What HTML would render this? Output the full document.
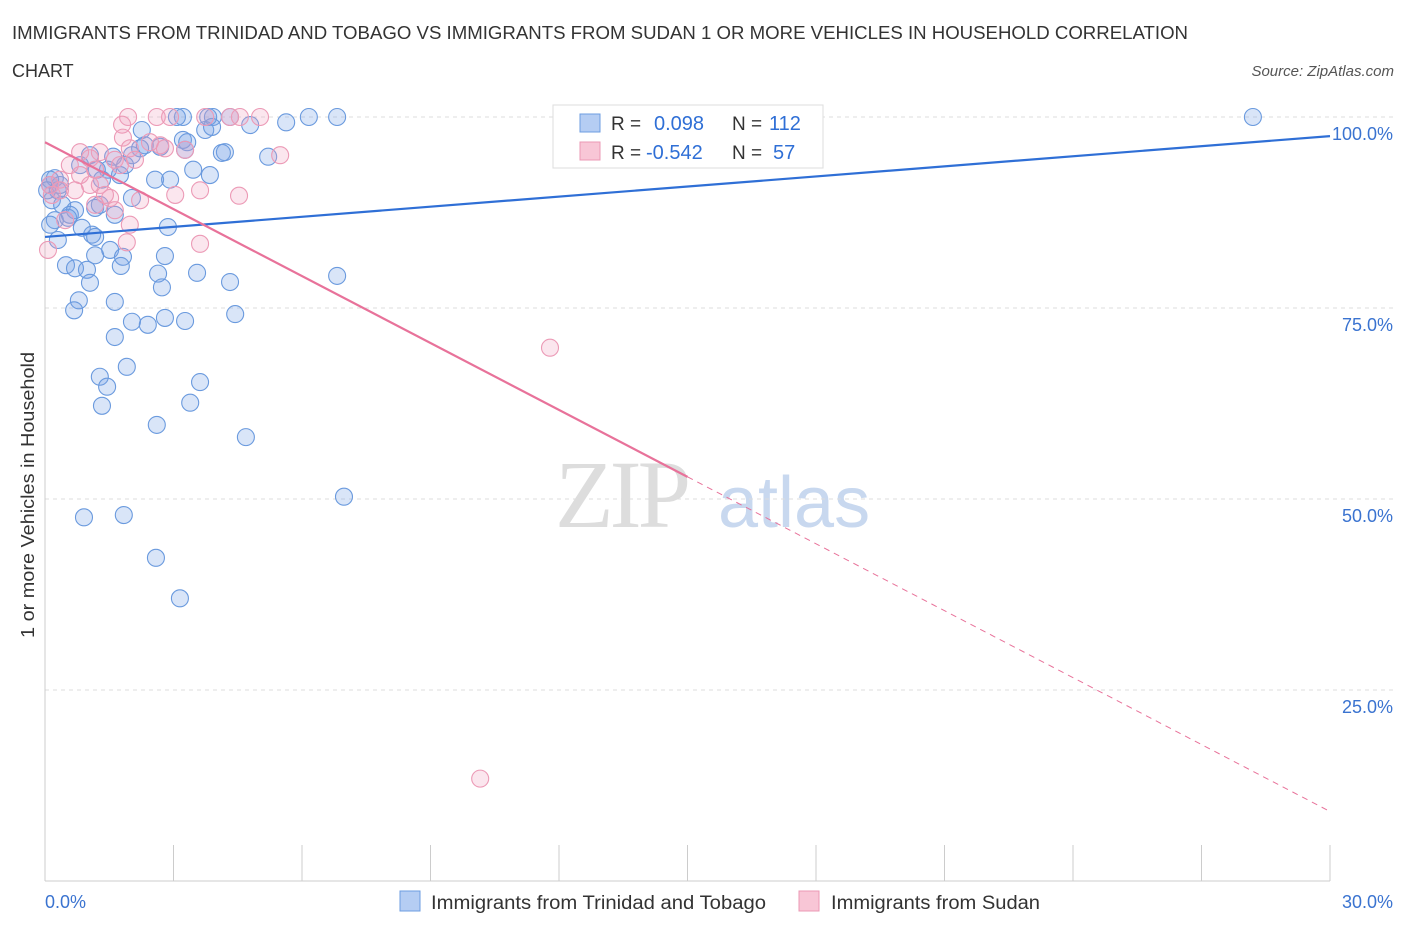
<!DOCTYPE html>
<html><head><meta charset="utf-8">
<style>
body{margin:0;background:#fff;font-family:"Liberation Sans",sans-serif;}
svg text{font-family:"Liberation Sans",sans-serif;}
</style></head>
<body>
<svg id="chart" width="1406" height="930" viewBox="0 0 1406 930">
<text x="12" y="39" font-size="18" fill="#333" textLength="1176" lengthAdjust="spacingAndGlyphs">IMMIGRANTS FROM TRINIDAD AND TOBAGO VS IMMIGRANTS FROM SUDAN 1 OR MORE VEHICLES IN HOUSEHOLD CORRELATION</text>
<text x="12" y="77" font-size="18" fill="#333">CHART</text>
<text x="1394" y="76" font-size="15" fill="#555" font-style="italic" text-anchor="end">Source: ZipAtlas.com</text>
<text x="555" y="527" font-size="96" fill="#ddd" style="font-family:'Liberation Serif',serif" letter-spacing="-4">ZIP</text>
<text x="718" y="527" font-size="72" fill="#c8d8ef">atlas</text>
<g id="grid"></g>
<g id="ticks"></g>
<text transform="translate(34,495) rotate(-90)" font-size="18" fill="#333" text-anchor="middle" textLength="286" lengthAdjust="spacingAndGlyphs">1 or more Vehicles in Household</text>
<text x="45" y="908" font-size="18" fill="#3a73d0">0.0%</text>
<text x="1393" y="908" font-size="18" fill="#3a73d0" text-anchor="end">30.0%</text>
<g id="pts"></g>
<g id="lines"></g>
<g>
<rect x="553" y="105" width="270" height="63" fill="#fff" stroke="#ddd"/>
<rect x="580" y="114" width="20" height="18" fill="#b5cdf3" stroke="#6d9de0"/>
<rect x="580" y="142" width="20" height="18" fill="#f8c6d6" stroke="#eb98b4"/>
<text x="611" y="130" font-size="19" fill="#333">R =</text><text x="654" y="130" font-size="20" fill="#2f6fd6">0.098</text>
<text x="732" y="130" font-size="19" fill="#333">N =</text><text x="769" y="130" font-size="20" fill="#2f6fd6">112</text>
<text x="611" y="159" font-size="19" fill="#333">R =</text><text x="646" y="159" font-size="20" fill="#2f6fd6">-0.542</text>
<text x="732" y="159" font-size="19" fill="#333">N =</text><text x="773" y="159" font-size="20" fill="#2f6fd6">57</text>
</g>
<g>
<rect x="400" y="891" width="20" height="20" fill="#b5cdf3" stroke="#6d9de0"/>
<text x="431" y="909" font-size="19" fill="#333" textLength="335" lengthAdjust="spacingAndGlyphs">Immigrants from Trinidad and Tobago</text>
<rect x="799" y="891" width="20" height="20" fill="#f8c6d6" stroke="#eb98b4"/>
<text x="831" y="909" font-size="19" fill="#333" textLength="209" lengthAdjust="spacingAndGlyphs">Immigrants from Sudan</text>
</g>
</svg>
<script>
const yTicks=[100,75,50,25];
const yTickLabels=["100.0%","75.0%","50.0%","25.0%"];
const xTicks=[0,3,6,9,12,15,18,21,24,27,30];
const blueX=[28.2,6.82,6.16,5.63,4.79,4.32,3.92,3.81,3.22,3.08,2.26,2.33,3.22,3.32,3.27,3.74,3.90,4.20,4.13,5.21,2.69,2.22,2.03,1.59,1.87,1.75,1.47,1.21,1.05,0.82,1.33,2.57,2.92,3.46,3.85,0.23,0.12,0.30,0.16,0.40,0.70,1.17,1.28,1.63,2.03,0.23,0.54,0.86,1.10,1.17,0.30,0.12,2.87,1.52,1.17,1.82,1.77,2.80,0.49,0.70,0.98,2.64,3.55,4.32,6.82,2.73,1.05,0.79,0.68,1.63,2.03,2.40,2.80,3.27,4.44,1.63,1.91,1.28,1.45,3.62,1.33,3.39,2.61,4.69,6.98,0.91,1.84,2.59,3.15,0.12,0.05,0.35,0.58];
const blueY=[100,100,100,99.3,98.95,100,100,100,100,100,98.3,96.3,97.0,96.7,95.7,98.3,98.7,95.4,95.3,94.8,96.1,95.9,95.0,94.8,93.7,92.4,93.1,93.1,95.0,93.7,91.8,91.8,91.8,93.1,92.4,92.0,91.8,90.4,89.1,88.5,87.8,88.1,88.5,87.2,89.4,86.5,86.8,85.5,84.6,84.3,83.9,85.9,85.6,82.6,81.9,81.7,80.5,81.8,80.6,80.2,80.0,79.5,79.6,78.4,79.2,77.7,78.3,76.0,74.7,75.8,73.2,72.8,73.7,73.3,74.2,71.2,67.3,66.0,64.7,65.3,62.2,62.6,59.7,58.1,50.3,47.6,47.9,42.3,37.0,91.1,90.4,91.1,87.2];
const pinkX=[1.94,2.61,2.92,3.74,4.55,5.02,4.32,1.80,1.82,2.69,1.98,1.28,0.82,1.05,2.10,1.63,0.58,0.82,1.17,1.75,1.28,1.05,0.35,0.70,2.22,1.52,1.98,1.91,3.62,4.53,3.04,3.62,5.49,11.79,10.16,0.07,0.12,0.16,0.35,0.47,1.40,1.17,2.45,2.80,3.27,1.63];
const pinkY=[100,100,100,100,100,100,100,99.0,97.3,96.3,95.9,95.4,95.4,94.6,94.4,94.4,93.7,92.4,93.1,93.7,91.1,91.1,91.8,90.4,89.1,89.4,85.9,83.6,90.4,89.7,89.8,83.4,95.0,69.8,13.4,82.6,91.1,89.8,90.4,86.5,89.8,88.5,96.7,95.9,95.7,87.8];
const blueFit=[84.3,0.44];
const pinkFit=[96.7,-2.92];
const NS="http://www.w3.org/2000/svg";
const X=v=>45+v*1285/30;
const Y=v=>881-v*764/100;
function mk(t,a,p){const e=document.createElementNS(NS,t);for(const k in a)e.setAttribute(k,a[k]);p.appendChild(e);return e;}
const grid=document.getElementById('grid'),ticks=document.getElementById('ticks'),pts=document.getElementById('pts'),lines=document.getElementById('lines');
yTicks.forEach((v,i)=>{
 const l=mk('line',{x1:45,x2:1393,y1:Y(v),y2:Y(v),stroke:'#ddd','stroke-dasharray':'4,4'},grid);
 
 
 const t=mk('text',{x:1393,y:Y(v)+23,'font-size':18,fill:'#3a73d0','text-anchor':'end'},grid);
 t.textContent=yTickLabels[i];
 
 
});
mk('line',{x1:45,x2:1330,y1:881,y2:881,stroke:'#ccc'},ticks);
mk('line',{x1:45,x2:45,y1:117,y2:881,stroke:'#ccc'},ticks);
xTicks.forEach(v=>{
 const l=mk('line',{x1:X(v),x2:X(v),y1:845,y2:881,stroke:'#ccc'},ticks);
 
 
});
blueX.forEach((x,i)=>{
 const c=mk('circle',{cx:X(x),cy:Y(blueY[i]),r:8.5,fill:'rgba(120,160,230,0.28)',stroke:'#6a9ade','stroke-width':1.1},pts);
 
 
});
pinkX.forEach((x,i)=>{
 const c=mk('circle',{cx:X(x),cy:Y(pinkY[i]),r:8.5,fill:'rgba(240,160,190,0.26)',stroke:'#ec9ab6','stroke-width':1.1},pts);
 
 
});
const bl=mk('line',{x1:X(0),y1:Y(blueFit[0]),x2:X(30),y2:Y(blueFit[0]+blueFit[1]*30),stroke:'#2f6fd6','stroke-width':2.2},lines);


const pl=mk('line',{x1:X(0),y1:Y(pinkFit[0]),x2:X(15),y2:Y(pinkFit[0]+pinkFit[1]*15),stroke:'#e8729a','stroke-width':2.2},lines);


const pd=mk('line',{x1:X(15),y1:Y(pinkFit[0]+pinkFit[1]*15),x2:X(30),y2:Y(pinkFit[0]+pinkFit[1]*30),stroke:'#e8729a','stroke-width':1,'stroke-dasharray':'6,5'},lines);


</script>
</body></html>
